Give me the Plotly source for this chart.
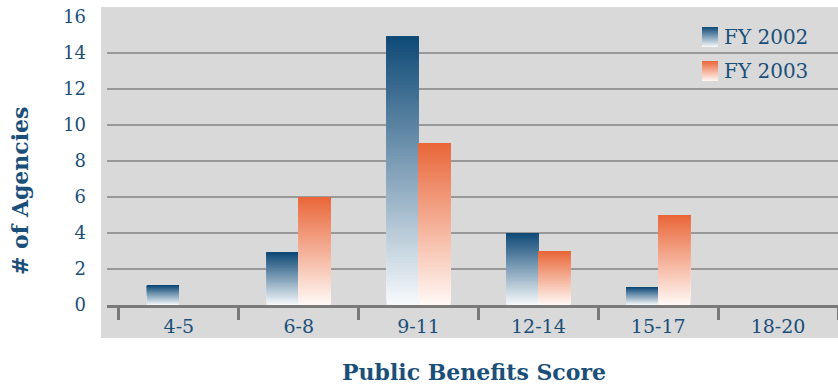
import plotly.graph_objects as go

categories = ["4-5", "6-8", "9-11", "12-14", "15-17", "18-20"]
fy2002 = [1.1, 2.9, 14.9, 4.0, 1.0, 0]
fy2003 = [0, 6.0, 9.0, 3.0, 5.0, 0]
series_names = ["FY 2002", "FY 2003"]
y_ticks = [0, 2, 4, 6, 8, 10, 12, 14, 16]
x_title = "Public Benefits Score"
y_title = "# of Agencies"

TEXT = "#1a4f7a"
BLUE_TOP, BLUE_BOT = (14, 73, 118), (247, 250, 252)
ORNG_TOP, ORNG_BOT = (233, 102, 56), (255, 249, 246)
FONT = "DejaVu Serif"
N = 90

W, H = 838, 387
ML, MR, MT, MB = 107, 0, 17, 82
PW, PH = W - ML - MR, H - MT - MB


def mix(top, bot, t):
    return "rgb(%d,%d,%d)" % tuple(round(b + (a - b) * t) for a, b in zip(top, bot))


def gradient_trace(vals, top, bot, group):
    # each slice runs from its own base up to the bar top; later slices cover
    # earlier ones, so the bar shows a smooth bottom-to-top gradient
    xs, ys, bases, cols = [], [], [], []
    for c, v in zip(categories, vals):
        for i in range(N):
            xs.append(c)
            ys.append(v - v * i / N)
            bases.append(v * i / N)
            cols.append(mix(top, bot, (i + 0.5) / N))
    return go.Bar(x=xs, y=ys, base=bases, offsetgroup=group,
                  marker=dict(color=cols, line=dict(width=0)),
                  showlegend=False, hoverinfo="skip")


fig = go.Figure()
fig.add_trace(gradient_trace(fy2002, BLUE_TOP, BLUE_BOT, "a"))
fig.add_trace(gradient_trace(fy2003, ORNG_TOP, ORNG_BOT, "b"))


def px_x(p):
    return (p - ML) / PW


def px_y(p):
    return (MT + PH - p) / PH


shapes = [dict(type="rect", xref="paper", yref="paper",
               x0=px_x(101), x1=1.0, y0=px_y(338), y1=px_y(7),
               fillcolor="#d9d9d9", line=dict(width=0), layer="below")]

annotations = []
legend_items = [(series_names[0], BLUE_TOP, BLUE_BOT, 27, 47),
                (series_names[1], ORNG_TOP, ORNG_BOT, 61, 81)]
K = 20
for name, top, bot, y0, y1 in legend_items:
    for k in range(K):
        ya = y1 - (y1 - y0) * k / K
        yb = y1 - (y1 - y0) * (k + 1) / K - 0.6
        shapes.append(dict(type="rect", xref="paper", yref="paper",
                           x0=px_x(702), x1=px_x(718),
                           y0=px_y(ya), y1=px_y(max(yb, y0)),
                           fillcolor=mix(top, bot, (k + 0.5) / K),
                           line=dict(width=0), layer="above"))
    annotations.append(dict(text=name, xref="paper", yref="paper",
                            x=px_x(722), y=px_y((y0 + y1) / 2),
                            xanchor="left", yanchor="middle", showarrow=False,
                            font=dict(family=FONT, size=20, color=TEXT)))

annotations.append(dict(text="<b>%s</b>" % y_title, xref="paper", yref="paper",
                        x=px_x(20), y=px_y(191), textangle=-90,
                        xanchor="center", yanchor="middle", showarrow=False,
                        font=dict(family=FONT, size=22, color=TEXT)))
annotations.append(dict(text="<b>%s</b>" % x_title, xref="paper", yref="paper",
                        x=px_x(474), y=px_y(372),
                        xanchor="center", yanchor="middle", showarrow=False,
                        font=dict(family=FONT, size=22, color=TEXT)))

fig.update_layout(
    width=W, height=H,
    margin=dict(l=ML, r=MR, t=MT, b=MB, pad=0),
    paper_bgcolor="white", plot_bgcolor="rgba(0,0,0,0)",
    barmode="group", bargap=0.467, bargroupgap=0,
    font=dict(family=FONT, color=TEXT, size=18),
    shapes=shapes, annotations=annotations,
    xaxis=dict(
        type="category", range=[-0.6, 5.5],
        showgrid=False, zeroline=False,
        showline=True, linecolor="#7a7a7a", linewidth=3,
        ticks="outside", tickson="boundaries", ticklen=12, tickwidth=2.5,
        tickcolor="#7a7a7a", ticklabelstandoff=2,
        tickfont=dict(family=FONT, size=19, color=TEXT),
    ),
    yaxis=dict(
        range=[0, 16], tickvals=y_ticks, showgrid=True,
        gridcolor="#999999", gridwidth=2, zeroline=False,
        showline=False, ticks="", ticklabelstandoff=20,
        tickfont=dict(family=FONT, size=18, color=TEXT),
    ),
)

fig.write_html("out.html")
